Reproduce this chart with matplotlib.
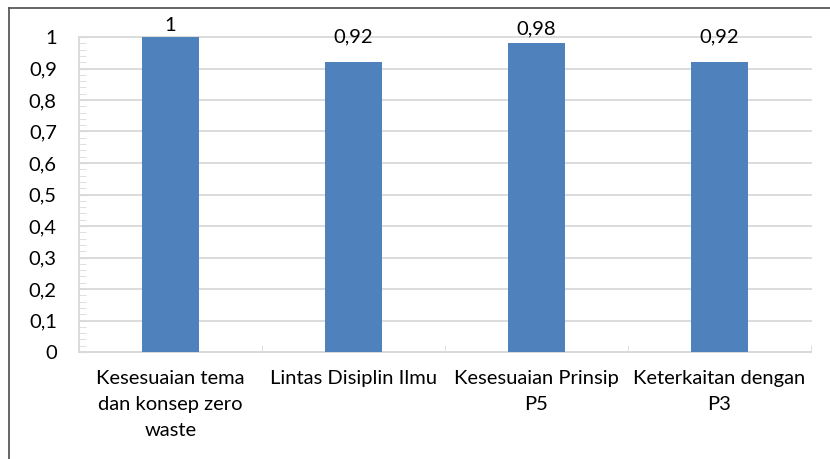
import matplotlib.pyplot as plt
from matplotlib.lines import Line2D
import numpy as np

categories = ['Kesesuaian tema\ndan konsep zero\nwaste', 'Lintas Disiplin Ilmu',
              'Kesesuaian Prinsip\nP5', 'Keterkaitan dengan\nP3']
values = [1.0, 0.92, 0.98, 0.92]
value_labels = ['1', '0,92', '0,98', '0,92']

plt.rcParams['font.family'] = ['Lato', 'DejaVu Sans']
grid_col = '#D9D9D9'
bar_col = '#4F81BD'
fs = 14.5
# gap between bar top and its value label, in points
label_gap = [2, 12, 4, 12]

fig = plt.figure(figsize=(8.3, 4.59), dpi=100)
ax = fig.add_axes([79 / 830, 1 - 352 / 459, (811 - 79) / 830, (352 - 37) / 459])

x = np.arange(len(categories))
ax.bar(x, values, width=0.31, color=bar_col, zorder=3, clip_on=False)
for xi, v, lab, g in zip(x, values, value_labels, label_gap):
    ax.annotate(lab, (xi, v), xytext=(0, g), textcoords='offset points',
                ha='center', va='bottom', fontsize=fs, color='black')

ax.set_xlim(-0.5, len(categories) - 0.5)
ax.set_ylim(0, 1)
yt = np.arange(0, 1.01, 0.1)
ax.set_yticks(yt)
ax.set_yticklabels([('%g' % round(t, 1)).replace('.', ',') for t in yt])
ax.set_yticks(np.arange(0, 1.001, 0.02), minor=True)
ax.yaxis.grid(True, which='major', color=grid_col, linewidth=1.3, zorder=0)
for gl in ax.get_ygridlines():
    gl.set_clip_on(False)

ax.set_xticks(x)
ax.set_xticklabels(categories, linespacing=1.65)
ax.set_xticks(np.arange(-0.5, len(categories)), minor=True)

ax.tick_params(axis='y', which='both', direction='in', length=5, color=grid_col,
               labelsize=fs, pad=16)
ax.tick_params(axis='x', which='major', length=0, labelsize=fs, pad=13)
ax.tick_params(axis='x', which='minor', direction='in', length=5, color=grid_col)

for s in ['top', 'right']:
    ax.spines[s].set_visible(False)
for s in ['left', 'bottom']:
    ax.spines[s].set_color(grid_col)
    ax.spines[s].set_linewidth(1.3)

fig.add_artist(Line2D([9 / 830, 1], [1 - 8 / 459, 1 - 8 / 459], color='#595959', linewidth=1.3))
fig.add_artist(Line2D([9 / 830, 9 / 830], [0, 1 - 8 / 459], color='#595959', linewidth=1.3))

fig.savefig('out.png', dpi=100)
